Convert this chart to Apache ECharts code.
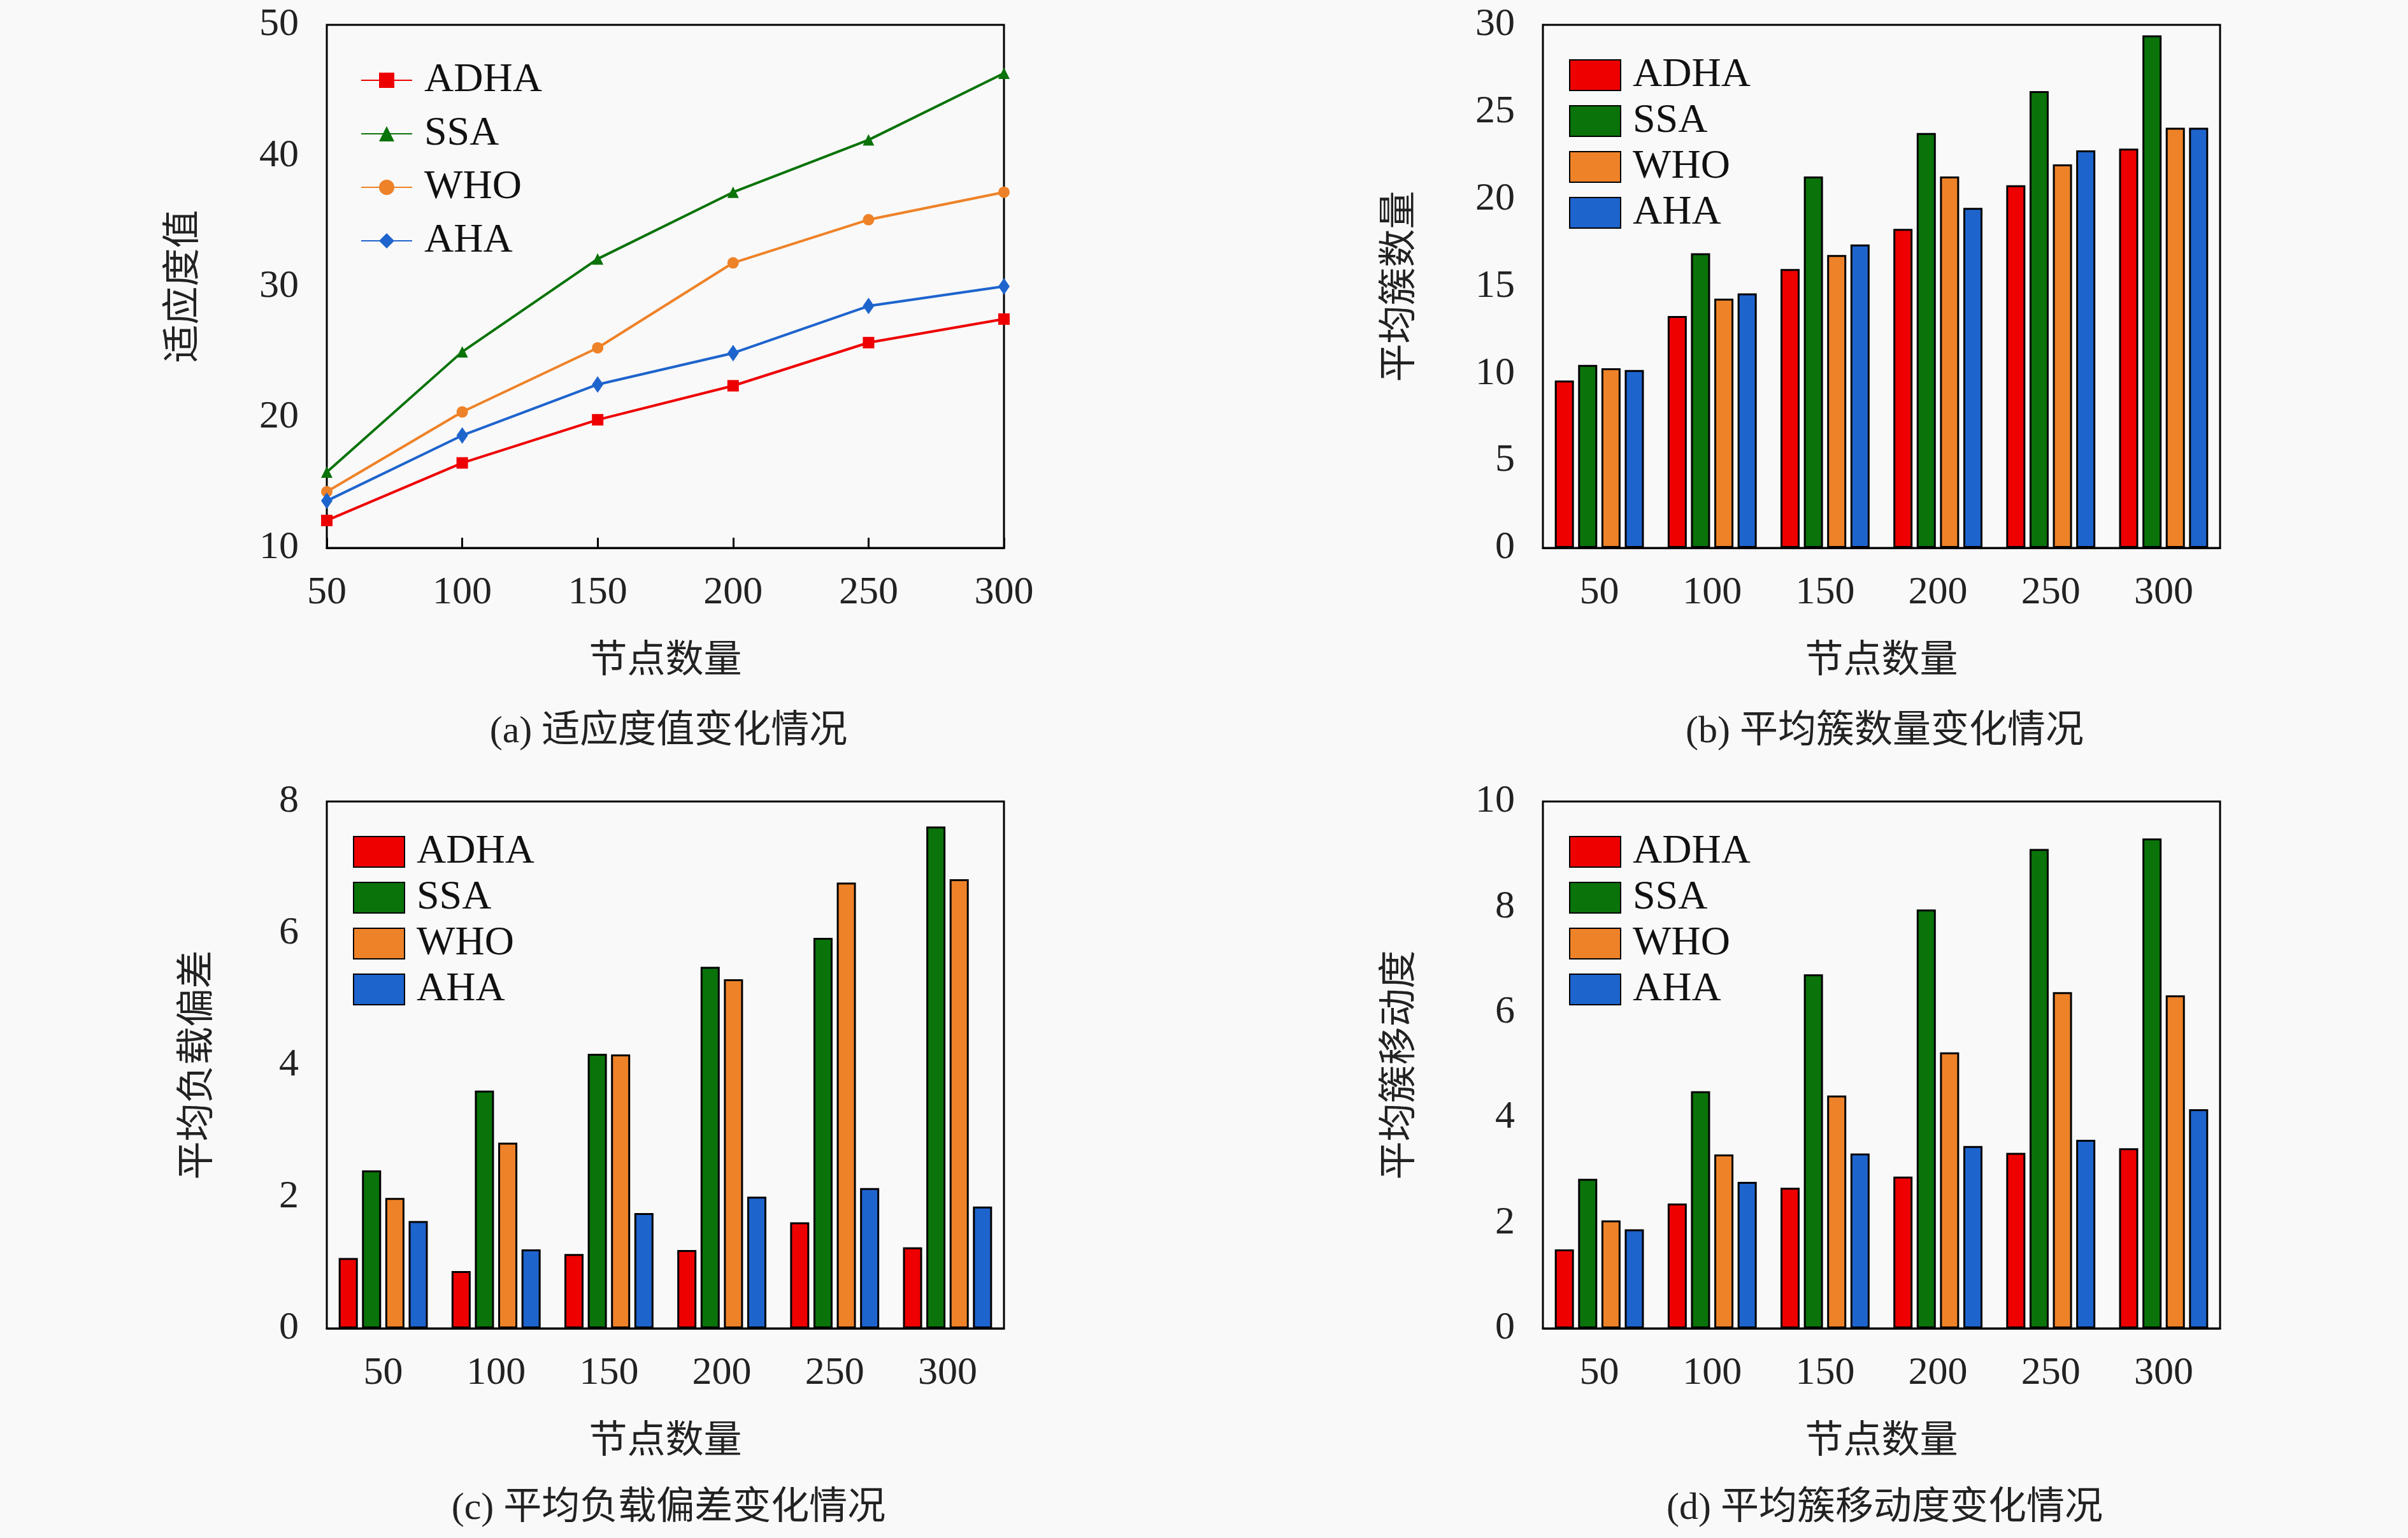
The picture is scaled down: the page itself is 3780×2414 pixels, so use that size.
<!DOCTYPE html>
<html><head><meta charset="utf-8">
<script src="https://cdn.jsdelivr.net/npm/echarts@6/dist/echarts.min.js"></script>
<style>html,body{margin:0;padding:0;background:#f9f9f9}#c{width:3780px;height:2414px}</style>
</head><body><div id="c"></div>
<script>
const categories = ['50','100','150','200','250','300'];
const seriesNames = ['ADHA','SSA','WHO','AHA'];
const colors = ['#ee0000','#0a730a','#ee8228','#1e64cd'];
// (a) 适应度值
const fitADHA = [12.1,16.5,19.8,22.4,25.7,27.5];
const fitSSA  = [15.8,25.0,32.1,37.2,41.2,46.3];
const fitWHO  = [14.3,20.4,25.3,31.8,35.1,37.2];
const fitAHA  = [13.6,18.6,22.5,24.9,28.5,30.0];
// (b) 平均簇数量
const cntADHA = [9.6,13.3,16.0,18.3,20.8,22.9];
const cntSSA  = [10.5,16.9,21.3,23.8,26.2,29.4];
const cntWHO  = [10.3,14.3,16.8,21.3,22.0,24.1];
const cntAHA  = [10.2,14.6,17.4,19.5,22.8,24.1];
// (c) 平均负载偏差
const devADHA = [1.07,0.87,1.13,1.19,1.61,1.23];
const devSSA  = [2.40,3.61,4.17,5.49,5.93,7.62];
const devWHO  = [1.98,2.82,4.16,5.30,6.77,6.82];
const devAHA  = [1.63,1.20,1.75,2.00,2.13,1.85];
// (d) 平均簇移动度
const movADHA = [1.50,2.37,2.67,2.88,3.33,3.42];
const movSSA  = [2.84,4.50,6.72,7.95,9.10,9.30];
const movWHO  = [2.05,3.30,4.42,5.24,6.38,6.32];
const movAHA  = [1.88,2.78,3.32,3.46,3.58,4.16];

const yNames = ['适应度值','平均簇数量','平均负载偏差','平均簇移动度'];
const captions = ['(a) 适应度值变化情况','(b) 平均簇数量变化情况','(c) 平均负载偏差变化情况','(d) 平均簇移动度变化情况'];
const yRanges = [[10,50,10],[0,30,5],[0,8,2],[0,10,2]];
const fontLat = 'Liberation Serif, Noto Sans CJK SC';
const fontCJK = 'Noto Sans CJK SC';

const grids = [
  {left:513, top:39, width:1063, height:821},
  {left:2422, top:39, width:1063, height:821},
  {left:513, top:1258, width:1063, height:827},
  {left:2422, top:1258, width:1063, height:827}
];
const captionY = [1150,1150,2369,2369];

const option = {
  backgroundColor:'#f9f9f9',
  animation:false,
  grid: grids.map(g=>Object.assign({show:true,borderColor:'#000',borderWidth:3,backgroundColor:'transparent'},g)),
  title: captions.map((t,i)=>({text:t,left:grids[i].left+grids[i].width/2,top:captionY[i]-36,textAlign:'center',
    textStyle:{fontFamily:fontLat,fontWeight:'normal',fontSize:60,color:'#222'}})),
  xAxis: grids.map((g,i)=>({
    gridIndex:i, type:'category', data:categories, boundaryGap:i!==0,
    name:'节点数量', nameLocation:'middle', nameGap:142,
    nameTextStyle:{fontFamily:fontCJK,fontSize:60,color:'#222'},
    axisLine:{lineStyle:{color:'#000',width:3}},
    axisTick:{inside:true,length:16,lineStyle:{width:3,color:'#000'},alignWithLabel:i===0},
    axisLabel:{fontFamily:fontLat,fontSize:62,color:'#222',margin:40},
    splitLine:{show:false}
  })),
  yAxis: grids.map((g,i)=>({
    gridIndex:i, type:'value', min:yRanges[i][0], max:yRanges[i][1], interval:yRanges[i][2],
    name:yNames[i], nameLocation:'middle', nameRotate:90, nameGap:i===2?178:200,
    nameTextStyle:{fontFamily:fontCJK,fontSize:60,color:'#222'},
    axisLine:{lineStyle:{color:'#000',width:3}},
    axisTick:{inside:true,length:16,lineStyle:{width:3,color:'#000'}},
    axisLabel:{fontFamily:fontLat,fontSize:62,color:'#222',margin:44},
    splitLine:{show:false}
  })),
  legend: grids.map((g,i)=>({
    left:g.left+ (i===0?48:36), top:g.top+(i===0?50:42), orient:'vertical', itemGap:i===0?20:8,
    itemWidth: 80, itemHeight: i===0?30:48, icon: i===0?undefined:'rect',
    textStyle:{fontFamily:fontLat,fontSize:64,color:'#111',padding:[0,0,0,14]},
    data: seriesNames.map(n=>n+'#'+i),
    formatter: n=>n.split('#')[0]
  })),
  series: []
};
const lineData=[fitADHA,fitSSA,fitWHO,fitAHA];
const syms=['rect','triangle','circle','diamond'];
lineData.forEach((d,k)=>option.series.push({
  name:seriesNames[k]+'#0', type:'line', xAxisIndex:0, yAxisIndex:0, data:d,
  symbol:syms[k], symbolSize:k===3?[18,26]:18, lineStyle:{color:colors[k],width:4},
  itemStyle:{color:colors[k]}
}));
const barSets=[[cntADHA,cntSSA,cntWHO,cntAHA],[devADHA,devSSA,devWHO,devAHA],[movADHA,movSSA,movWHO,movAHA]];
barSets.forEach((set,j)=>{
  const gi=j+1;
  set.forEach((d,k)=>option.series.push({
    name:seriesNames[k]+'#'+gi, type:'bar', xAxisIndex:gi, yAxisIndex:gi, data:d,
    barWidth:30, barGap:'22%',
    itemStyle:{color:colors[k],borderColor:'#000',borderWidth:3}
  }));
});
const chart = echarts.init(document.getElementById('c'));
chart.setOption(option);
</script></body></html>
